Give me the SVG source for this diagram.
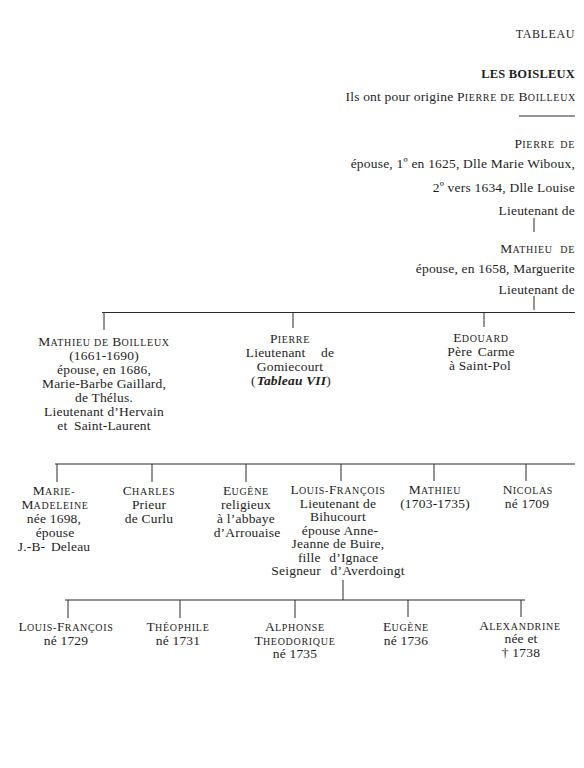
<svg xmlns="http://www.w3.org/2000/svg" width="584" height="768" viewBox="0 0 584 768">
<style>
text{font-family:"Liberation Serif","Times New Roman",serif;font-size:13.5px;letter-spacing:0.2px;fill:#1e1e1e}
.c{text-anchor:middle}
.r{text-anchor:end}
.sc{font-size:10px;letter-spacing:0.7px}
.it{font-style:italic;font-weight:bold}
.ln{stroke:#2a2a2a;stroke-width:1;fill:none}
</style>
<rect width="584" height="768" fill="#ffffff"/>
<g id="header">
<text class="r" x="575" y="38" style="font-size:12px;letter-spacing:0.6px">TABLEAU</text>
<text class="r" x="575" y="78" style="font-weight:bold;font-size:12.5px">LES BOISLEUX</text>
<text class="r" x="576" y="101">Ils ont pour origine P<tspan class="sc">IERRE DE</tspan> B<tspan class="sc">OILLEUX</tspan></text>
</g>
<g id="connectors">
<line class="ln" x1="519" y1="116" x2="575" y2="116"/>
<line class="ln" x1="534" y1="218" x2="534" y2="232"/>
<line class="ln" x1="534" y1="296" x2="534" y2="310"/>
<line class="ln" x1="102" y1="312.5" x2="575" y2="312.5"/>
<line class="ln" x1="104" y1="312.5" x2="104" y2="330"/>
<line class="ln" x1="293" y1="312.5" x2="293" y2="328"/>
<line class="ln" x1="484" y1="312.5" x2="484" y2="327"/>
<line class="ln" x1="55" y1="464" x2="575" y2="464"/>
<line class="ln" x1="57" y1="464" x2="57" y2="482"/>
<line class="ln" x1="152" y1="464" x2="152" y2="482"/>
<line class="ln" x1="246" y1="464" x2="246" y2="482"/>
<line class="ln" x1="341" y1="464" x2="341" y2="481"/>
<line class="ln" x1="434" y1="464" x2="434" y2="481"/>
<line class="ln" x1="526" y1="464" x2="526" y2="481"/>
<line class="ln" x1="343" y1="580" x2="343" y2="600"/>
<line class="ln" x1="65" y1="600" x2="525" y2="600"/>
<line class="ln" x1="68" y1="600" x2="68" y2="618"/>
<line class="ln" x1="180" y1="600" x2="180" y2="618"/>
<line class="ln" x1="295" y1="600" x2="295" y2="618"/>
<line class="ln" x1="408" y1="600" x2="408" y2="617"/>
<line class="ln" x1="521" y1="600" x2="521" y2="617"/>
</g>
<g id="pierre-de">
<text class="r" x="575" y="148">P<tspan class="sc">IERRE</tspan> <tspan class="sc" dx="2">DE</tspan></text>
<text class="r" x="575" y="168">épouse, 1º en 1625, Dlle Marie Wiboux,</text>
<text class="r" x="575" y="192">2º vers 1634, Dlle Louise</text>
<text class="r" x="575" y="215">Lieutenant de</text>
</g>
<g id="mathieu-de">
<text class="r" x="575" y="253">M<tspan class="sc">ATHIEU</tspan> <tspan class="sc" dx="4">DE</tspan></text>
<text class="r" x="575" y="273">épouse, en 1658, Marguerite</text>
<text class="r" x="575" y="294">Lieutenant de</text>
</g>
<g id="mathieu-de-boilleux">
<text class="c" x="104" y="346">M<tspan class="sc">ATHIEU DE</tspan> B<tspan class="sc">OILLEUX</tspan></text>
<text class="c" x="104" y="360">(1661-1690)</text>
<text class="c" x="104" y="374">épouse, en 1686,</text>
<text class="c" x="104" y="388">Marie-Barbe Gaillard,</text>
<text class="c" x="104" y="402">de Thélus.</text>
<text class="c" x="104" y="416">Lieutenant d’Hervain</text>
<text class="c" x="104" y="430">et <tspan dx="3">Saint-Laurent</tspan></text>
</g>
<g id="pierre">
<text class="c" x="290" y="343">P<tspan class="sc">IERRE</tspan></text>
<text class="c" x="290" y="357">Lieutenant <tspan dx="12">de</tspan></text>
<text class="c" x="290" y="371">Gomiecourt</text>
<text class="c" x="291" y="385">(<tspan class="it" dx="1">Tableau VII</tspan>)</text>
</g>
<g id="edouard">
<text class="c" x="481" y="342">E<tspan class="sc">DOUARD</tspan></text>
<text class="c" x="481" y="356">Père <tspan dx="2">Carme</tspan></text>
<text class="c" x="480" y="370">à Saint-Pol</text>
</g>
<g id="marie-madeleine">
<text class="c" x="54" y="495">M<tspan class="sc">ARIE-</tspan></text>
<text class="c" x="55" y="509">M<tspan class="sc">ADELEINE</tspan></text>
<text class="c" x="54" y="523">née 1698,</text>
<text class="c" x="55" y="537">épouse</text>
<text class="c" x="54" y="551">J.-B- <tspan dx="2">Deleau</tspan></text>
</g>
<g id="charles">
<text class="c" x="149" y="495">C<tspan class="sc">HARLES</tspan></text>
<text class="c" x="149" y="509">Prieur</text>
<text class="c" x="149" y="523">de Curlu</text>
</g>
<g id="eugene">
<text class="c" x="246" y="495">E<tspan class="sc">UGÈNE</tspan></text>
<text class="c" x="246" y="509">religieux</text>
<text class="c" x="246" y="523">à l’abbaye</text>
<text class="c" x="247" y="537">d’Arrouaise</text>
</g>
<g id="louis-francois">
<text class="c" x="338" y="494">L<tspan class="sc">OUIS-</tspan>F<tspan class="sc">RANÇOIS</tspan></text>
<text class="c" x="338" y="507.5">Lieutenant de</text>
<text class="c" x="338" y="521">Bihucourt</text>
<text class="c" x="340" y="534.5">épouse Anne-</text>
<text class="c" x="338" y="548">Jeanne de Buire,</text>
<text class="c" x="338" y="561.5">fille <tspan dx="5">d’Ignace</tspan></text>
<text class="c" x="338" y="575">Seigneur <tspan dx="6">d’Averdoingt</tspan></text>
</g>
<g id="mathieu">
<text class="c" x="435" y="494">M<tspan class="sc">ATHIEU</tspan></text>
<text class="c" x="435" y="507.5">(1703-1735)</text>
</g>
<g id="nicolas">
<text class="c" x="528" y="494">N<tspan class="sc">ICOLAS</tspan></text>
<text class="c" x="527" y="507.5">né 1709</text>
</g>
<g id="louis-francois-1729">
<text class="c" x="66" y="631">L<tspan class="sc">OUIS-</tspan>F<tspan class="sc">RANÇOIS</tspan></text>
<text class="c" x="66" y="645">né 1729</text>
</g>
<g id="theophile">
<text class="c" x="178" y="631">T<tspan class="sc">HÉOPHILE</tspan></text>
<text class="c" x="178" y="645">né 1731</text>
</g>
<g id="alphonse">
<text class="c" x="295" y="631">A<tspan class="sc">LPHONSE</tspan></text>
<text class="c" x="295" y="644.5">T<tspan class="sc">HEODORIQUE</tspan></text>
<text class="c" x="295" y="658">né 1735</text>
</g>
<g id="eugene-1736">
<text class="c" x="406" y="631">E<tspan class="sc">UGÈNE</tspan></text>
<text class="c" x="406" y="645">né 1736</text>
</g>
<g id="alexandrine">
<text class="c" x="520" y="629.5">A<tspan class="sc">LEXANDRINE</tspan></text>
<text class="c" x="521" y="643">née et</text>
<text class="c" x="521" y="656.5">† 1738</text>
</g>
</svg>
